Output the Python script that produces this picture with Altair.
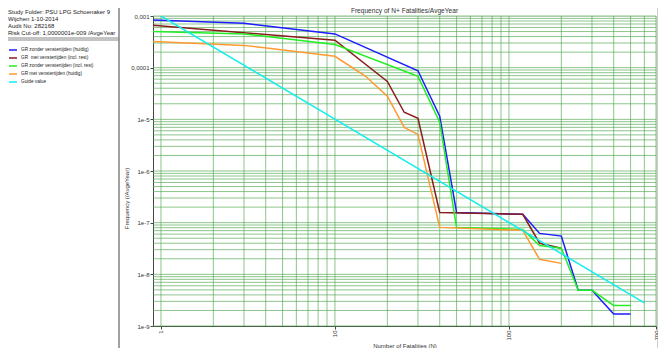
import altair as alt
import pandas as pd

# ---------------- data ----------------
series_names = [
    "GR zonder venstertijden (huidig)",
    "GR\u00a0 met venstertijden (incl. rest)",
    "GR zonder venstertijden (incl. rest)",
    "GR met venstertijden (huidig)",
    "Guide value",
]
series_colors = ["#1c1cff", "#8b1c1c", "#22ee22", "#ff9933", "#11eeee"]

blue_n = [0.9, 3, 10, 30, 40, 50, 120, 150, 200, 250, 300, 400, 500]
blue_f = [8.4e-4, 7.2e-4, 4.5e-4, 8.7e-5, 1.15e-5, 1.58e-7, 1.45e-7, 6.2e-8, 5.5e-8, 4.9e-9, 4.9e-9, 1.7e-9, 1.7e-9]

brown_n = [0.9, 10, 20, 25, 30, 40, 120, 150, 200]
brown_f = [6.6e-4, 3.4e-4, 5.4e-5, 1.37e-5, 1.05e-5, 1.58e-7, 1.45e-7, 4.0e-8, 3.2e-8]

green_n = [0.9, 3, 10, 30, 40, 50, 120, 150, 200, 250, 300, 400, 500]
green_f = [5.0e-4, 4.5e-4, 2.8e-4, 6.8e-5, 8.8e-6, 8.1e-8, 7.4e-8, 3.6e-8, 3.2e-8, 4.9e-9, 4.9e-9, 2.5e-9, 2.5e-9]

orange_n = [0.9, 3, 10, 15, 20, 25, 30, 40, 120, 150, 200]
orange_f = [3.2e-4, 2.7e-4, 1.66e-4, 6.8e-5, 2.8e-5, 7.0e-6, 5.1e-6, 8.1e-8, 7.1e-8, 1.95e-8, 1.63e-8]

guide_n = [1, 600]
guide_f = [1e-3, 2.8e-9]

x_label_values = [1, 10, 100, 700]
y_label_values = [1e-9, 1e-8, 1e-7, 1e-6, 1e-5, 1e-4, 1e-3]
x_grid_values = [1, 2, 3, 4, 5, 6, 7, 8, 9,
                 10, 20, 30, 40, 50, 60, 70, 80, 90,
                 100, 200, 300, 400, 500, 600, 700]
y_grid_values = [m * 10.0 ** e for e in range(-9, -3) for m in range(1, 10)] + [1e-3]

chart_title = "Frequency of N+ Fatalities/AvgeYear"
header_lines = [
    "Study Folder: PSU LPG Schoenaker 9",
    "Wijchen 1-10-2014",
    "Audit No: 282168",
    "Risk Cut-off: 1,0000001e-009 /AvgeYear",
]

# ---------------- build tables ----------------
all_n = [blue_n, brown_n, green_n, orange_n, guide_n]
all_f = [blue_f, brown_f, green_f, orange_f, guide_f]
frames = []
for i, (name, ns, fs) in enumerate(zip(series_names, all_n, all_f)):
    frames.append(pd.DataFrame({"N": ns, "F": fs, "series": name, "order": i}))
lines_df = pd.concat(frames, ignore_index=True)

xgrid_df = pd.DataFrame({"N": x_grid_values})
ygrid_df = pd.DataFrame({"F": y_grid_values})

W, H = 503, 310
x_scale = alt.Scale(type="log", domain=[0.9, 700], nice=False)
y_scale = alt.Scale(type="log", domain=[1e-9, 1e-3], nice=False)
grid_col = "#4ea64e"

x_axis = alt.Axis(
    values=x_label_values, title="Number of Fatalities (N)",
    labelAngle=270, labelFontSize=6, labelPadding=1, tickSize=3,
    grid=False, titleFontSize=6, titleFontWeight="normal",
    titlePadding=2, domainColor="#444", tickColor="#444",
    labelColor="#333", titleColor="#333", labelFont="Liberation Sans",
    titleFont="Liberation Sans", labelFlush=False, labelOverlap=False,
)
y_axis = alt.Axis(
    values=y_label_values, title="Frequency (/AvgeYear)",
    labelExpr="datum.value > 5e-4 ? '0,001' : datum.value > 5e-5 ? '0,0001' : '1e' + round(log(datum.value)/LN10)",
    labelFontSize=6, labelPadding=1, tickSize=3, grid=False,
    titleFontSize=6, titleFontWeight="normal", titlePadding=1, titleY=182,
    domainColor="#444", tickColor="#444", labelColor="#333",
    titleColor="#333", labelFont="Liberation Sans",
    titleFont="Liberation Sans", labelFlush=False, labelOverlap=False,
)

xgrid = alt.Chart(xgrid_df).mark_rule(color=grid_col, strokeWidth=1, opacity=0.65).encode(
    x=alt.X("N:Q", scale=x_scale, axis=x_axis)
)
ygrid = alt.Chart(ygrid_df).mark_rule(color=grid_col, strokeWidth=1, opacity=0.65).encode(
    y=alt.Y("F:Q", scale=y_scale, axis=y_axis)
)

layers = [xgrid, ygrid]
for i, name in enumerate(series_names):
    sub = lines_df[lines_df["series"] == name]
    layers.append(
        alt.Chart(sub).mark_line(strokeWidth=1.5, clip=True).encode(
            x=alt.X("N:Q", scale=x_scale, axis=x_axis),
            y=alt.Y("F:Q", scale=y_scale, axis=y_axis),
            color=alt.Color(
                "series:N",
                scale=alt.Scale(domain=series_names, range=series_colors),
                legend=alt.Legend(
                    orient="none", legendX=-145, legendY=29, title=None,
                    symbolType="stroke", symbolSize=64, symbolStrokeWidth=1.5,
                    labelFontSize=4.7, labelOffset=3, rowPadding=0, padding=0,
                    labelColor="#222", labelFont="Liberation Sans", labelLimit=200,
                ),
            ),
            order=alt.Order("order:Q"),
        )
    )

# chart title as a text mark (kept inside the drawable area)
title_mark = alt.Chart(pd.DataFrame({"t": [chart_title]})).mark_text(
    align="center", baseline="middle", fontSize=6.6, font="Liberation Sans", color="#333",
).encode(text="t:N", x=alt.value(W / 2), y=alt.value(-5))

# header text in the left panel
header = alt.Chart(pd.DataFrame({"t": ["\n".join(header_lines)]})).mark_text(
    align="left", baseline="top", fontSize=6, lineHeight=7.2, lineBreak="\n",
    font="Liberation Sans", color="#222",
).encode(text="t:N", x=alt.value(-145), y=alt.value(-7.5))

# panel frame lines
frame_df = pd.DataFrame({"k": [0]})
panel_right = alt.Chart(frame_df).mark_rule(color="#444", strokeWidth=1).encode(
    x=alt.value(-34), y=alt.value(-8), y2=alt.value(332))
head_bottom = alt.Chart(frame_df).mark_rule(color="#888", strokeWidth=1).encode(
    x=alt.value(-145), x2=alt.value(-34), y=alt.value(22))
legend_top = alt.Chart(frame_df).mark_rule(color="#888", strokeWidth=1).encode(
    x=alt.value(-145), x2=alt.value(-34), y=alt.value(24))
right_frame = alt.Chart(frame_df).mark_rule(color="#999", strokeWidth=1).encode(
    x=alt.value(505), y=alt.value(-8), y2=alt.value(332))

chart = alt.layer(*layers, title_mark, header, panel_right, head_bottom, legend_top, right_frame).properties(
    width=W, height=H,
    autosize=alt.AutoSizeParams(type="none"),
    padding={"left": 145, "top": 8, "right": 2, "bottom": 22},
).configure_view(stroke="#555", strokeWidth=1).configure(background="white")

chart.save("out.html", embed_options={"renderer": "svg", "actions": False})
